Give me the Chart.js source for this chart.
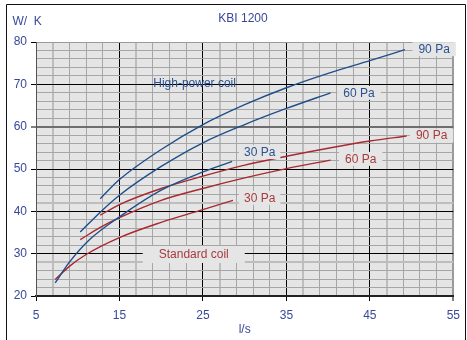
<!DOCTYPE html>
<html>
<head>
<meta charset="utf-8">
<script src="https://cdn.jsdelivr.net/npm/chart.js@4"></script>
<style>
html, body { margin: 0; padding: 0; background: #fff; }
#wrap { position: relative; width: 467px; height: 340px; }
</style>
</head>
<body>
<div id="wrap"><canvas id="myChart"></canvas></div>
<script>
// air flow (l/s) and output (W/K)
var hp90x = [12.7, 15, 20, 25, 30, 35, 40, 45, 49.2];
var hp90y = [43.0, 47.5, 54.6, 60.5, 65.2, 69.2, 72.6, 75.6, 78.2];
var hp60x = [10.3, 12.7, 15, 20, 25, 30, 35, 40.3];
var hp60y = [35.1, 39.8, 43.8, 50.6, 56.2, 60.5, 64.3, 68.0];
var hp30x = [7.3, 9, 11.4, 15, 20, 25, 28.5];
var hp30y = [23.1, 28.0, 33.3, 38.7, 45.0, 49.3, 51.8];

var st90x = [12.7, 15, 20, 25, 30, 35, 40, 45, 49.4];
var st90y = [39.1, 41.6, 45.4, 48.3, 50.9, 53.0, 54.9, 56.6, 57.8];
var st60x = [10.3, 12.7, 15, 20, 25, 30, 35, 40.3];
var st60y = [33.3, 36.2, 38.5, 42.6, 45.4, 47.9, 50.1, 52.1];
var st30x = [7.3, 9, 11, 15, 20, 25, 28.6];
var st30y = [23.9, 27.0, 29.8, 33.8, 37.4, 40.4, 42.6];

var blue = '#1f4f8a';
var red = '#a62a2f';
var tickBlue = '#38489a';
var font = "'Liberation Sans', Arial, sans-serif";

// text placed on the plot (data coordinates)
var notes = [
    { text: 'High-power coil', x: 24.0, y: 70.2, color: '#2a5190', box: false },
    { text: '90 Pa', x: 52.7, y: 78.3, color: '#2a5190', box: true, padX: 6 },
    { text: '60 Pa', x: 43.7, y: 68.0, color: '#2a5190', box: true, padX: 6 },
    { text: '30 Pa', x: 31.8, y: 54.0, color: '#2a5190', box: true, padX: 5 },
    { text: 'Standard coil', x: 23.9, y: 29.8, color: '#a83a3e', box: true, padX: 16 },
    { text: '90 Pa', x: 52.4, y: 57.9, color: '#a83a3e', box: true, padX: 6 },
    { text: '60 Pa', x: 43.9, y: 52.4, color: '#a83a3e', box: true, padX: 6 },
    { text: '30 Pa', x: 31.8, y: 43.2, color: '#a83a3e', box: true, padX: 5 }
];

function pts(xs, ys) {
    return xs.map(function (x, i) { return { x: x, y: ys[i] }; });
}

function curve(xs, ys, color) {
    return {
        data: pts(xs, ys),
        borderColor: color,
        borderWidth: 1.4,
        pointRadius: 0,
        showLine: true,
        cubicInterpolationMode: 'monotone',
        fill: false
    };
}

var bg = '#e5e5e5';

var decor = {
    id: 'decor',
    beforeDraw: function (chart) {
        var a = chart.chartArea, c = chart.ctx;
        c.save();
        c.fillStyle = bg;
        c.fillRect(a.left, a.top, a.right - a.left, a.bottom - a.top);
        c.restore();
    },
    afterDatasetsDraw: function (chart) {
        var c = chart.ctx, sx = chart.scales.x, sy = chart.scales.y;
        c.save();
        c.font = '12px ' + font;
        c.textAlign = 'center';
        c.textBaseline = 'middle';
        notes.forEach(function (n) {
            var px = sx.getPixelForValue(n.x), py = sy.getPixelForValue(n.y);
            if (n.box) {
                var w = c.measureText(n.text).width + 2 * n.padX;
                var h = n.padX > 10 ? 17 : 14;
                c.fillStyle = bg;
                c.fillRect(px - w / 2, py - h / 2, w, h);
            }
            c.fillStyle = n.color;
            c.fillText(n.text, px, py + 0.5);
        });
        c.restore();
    },
    afterDraw: function (chart) {
        var c = chart.ctx;
        c.save();
        c.strokeStyle = '#111';
        c.lineWidth = 1;
        c.beginPath();
        c.moveTo(6.5, 340);
        c.lineTo(6.5, 4.5);
        c.lineTo(465.5, 4.5);
        c.lineTo(465.5, 340);
        c.stroke();
        c.font = '12px ' + font;
        c.fillStyle = tickBlue;
        c.textBaseline = 'middle';
        c.textAlign = 'center';
        c.fillText('KBI 1200', 243, 19);
        c.textAlign = 'left';
        c.fillText('W/  K', 12.5, 22);
        c.restore();
    }
};

var ctx = document.getElementById('myChart').getContext('2d');
var myChart = new Chart(ctx, {
    type: 'scatter',
    data: {
        datasets: [
            curve(hp90x, hp90y, blue),
            curve(hp60x, hp60y, blue),
            curve(hp30x, hp30y, blue),
            curve(st90x, st90y, red),
            curve(st60x, st60y, red),
            curve(st30x, st30y, red)
        ]
    },
    options: {
        responsive: true,
        maintainAspectRatio: false,
        animation: false,
        devicePixelRatio: 1,
        layout: { padding: { left: 0, right: 9.5, top: 42, bottom: 0 } },
        scales: {
            x: {
                type: 'linear',
                min: 5,
                max: 55,
                afterFit: function (s) { s.height = 44; },
                grid: {
                    tickLength: 5,
                    color: function (c) {
                        var v = c.tick ? c.tick.value : 0;
                        if (v === 55) return '#9a9a9a';
                        if ((v - 5) % 10 === 0) return '#000';
                        if ((v - 7) % 10 === 0) return '#bdbdbd';
                        return '#a6a6a6';
                    },
                    lineWidth: function (c) {
                        var v = c.tick ? c.tick.value : 0;
                        if (v === 55) return 2;
                        if ((v - 7) % 10 === 0) return 2;
                        return 1;
                    },
                    tickColor: function (c) {
                        var v = c.tick ? c.tick.value : 0;
                        return (v - 5) % 10 === 0 ? '#000' : 'rgba(0,0,0,0)';
                    },
                    tickWidth: 1
                },
                border: { color: '#222', width: 2 },
                ticks: {
                    stepSize: 2,
                    autoSkip: false,
                    maxRotation: 0,
                    padding: 7,
                    color: tickBlue,
                    font: { family: font, size: 12 },
                    callback: function (v) { return (v - 5) % 10 === 0 ? v : ''; }
                },
                title: {
                    display: true,
                    text: 'l/s',
                    color: tickBlue,
                    font: { family: font, size: 12 },
                    padding: { top: 0, bottom: 3 }
                }
            },
            y: {
                min: 20,
                max: 80,
                afterFit: function (s) { s.width = 36; },
                grid: {
                    tickLength: 5,
                    color: function (c) {
                        var v = c.tick ? c.tick.value : 0;
                        if (v === 80) return '#9a9a9a';
                        if (v === 60) return '#6e6e6e';
                        if (v % 10 === 0) return '#000';
                        if (v === 28 || v === 42) return '#bdbdbd';
                        return '#a6a6a6';
                    },
                    lineWidth: function (c) {
                        var v = c.tick ? c.tick.value : 0;
                        if (v === 60 || v === 28 || v === 42) return 2;
                        return 1;
                    },
                    tickColor: function (c) {
                        var v = c.tick ? c.tick.value : 0;
                        return v % 10 === 0 ? '#000' : 'rgba(0,0,0,0)';
                    },
                    tickWidth: 1
                },
                border: { color: '#555', width: 1 },
                ticks: {
                    stepSize: 2,
                    autoSkip: false,
                    padding: 4,
                    color: tickBlue,
                    font: { family: font, size: 12 },
                    callback: function (v) { return v % 10 === 0 ? v : ''; }
                }
            }
        },
        plugins: {
            legend: { display: false },
            tooltip: { enabled: false }
        }
    },
    plugins: [decor]
});
</script>
</body>
</html>
